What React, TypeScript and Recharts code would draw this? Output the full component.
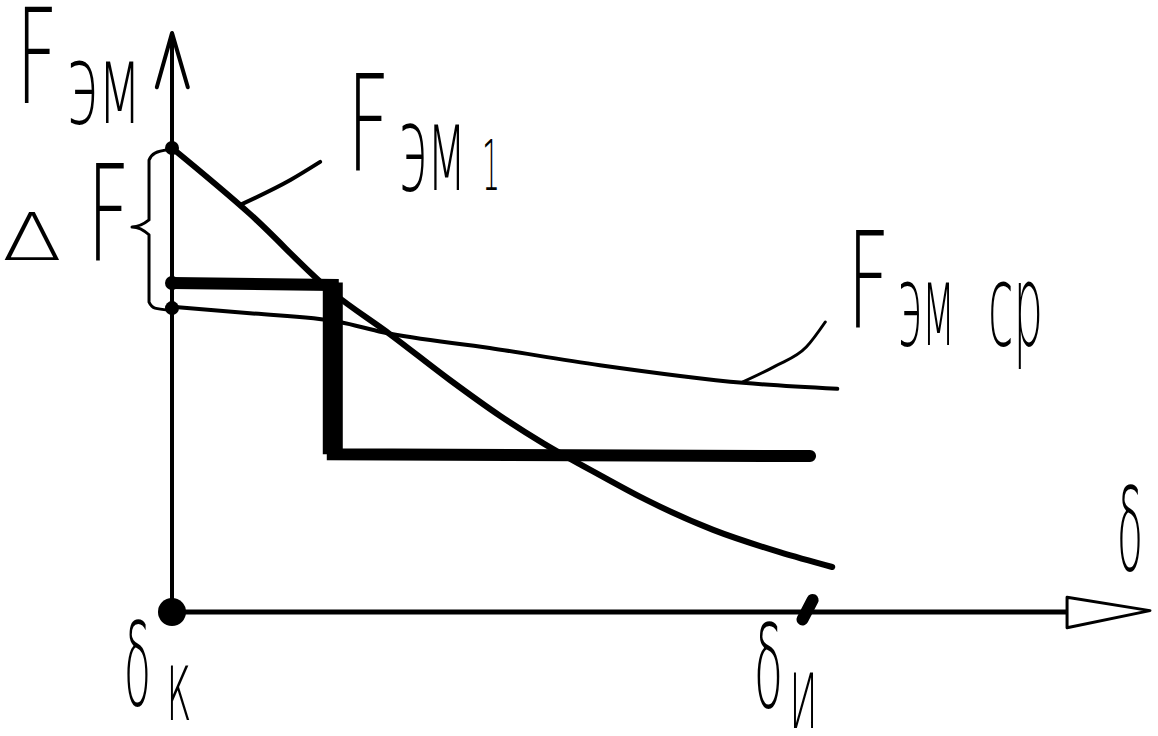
import React from "react";
import { LineChart, Line, XAxis, YAxis, ReferenceDot, Customized } from "recharts";

// ---- layout constants (chart pixels per unit) ----
const W = 1158;
const H = 736;
const ORIGIN_X = 172;
const ORIGIN_Y = 612;
const KX = 63.3; // px per δ unit
const KY = 46.4; // px per F unit

// ---- data (δ in relative units, F in relative units) ----
const fem1X = [0, 1.23, 2.54, 3.44, 4.39, 5.18, 5.86, 6.76, 7.5, 8.55, 9.6, 10.43];
const fem1Y = [10.0, 8.58, 6.88, 5.99, 5.0, 4.23, 3.64, 2.95, 2.41, 1.77, 1.29, 0.97];

const femSrX = [0, 1.23, 2.65, 3.33, 5.02, 6.76, 9.02, 10.51];
const femSrY = [6.58, 6.44, 6.25, 6.03, 5.69, 5.32, 4.94, 4.81];

const stepX = [0, 2.54, 2.54, 10.08];
const stepY = [7.09, 7.05, 3.4, 3.36];

// heavier hand-drawn vertical stroke of the step
const stepDropX = [2.54, 2.54];
const stepDropY = [7.1, 3.4];

const leader1X = [1.07, 1.87, 2.34];
const leader1Y = [8.77, 9.31, 9.7];

const leader2X = [9.02, 9.53, 10.02, 10.32];
const leader2Y = [4.96, 5.3, 5.71, 6.25];

const braceX = [-0.063, -0.269, -0.363, -0.363, -0.632, -0.363, -0.363, -0.269, -0.063];
const braceY = [9.96, 9.89, 9.74, 8.45, 8.3, 8.13, 6.68, 6.55, 6.51];

const xAxisX = [0, 14.14];
const xAxisY = [0, 0];
const xArrowX = [14.14, 15.45, 14.14, 14.14];
const xArrowY = [0.32, 0.03, -0.34, 0.32];

const yAxisX = [0, 0];
const yAxisY = [0, 12.48];
const yArrowX = [-0.24, 0, 0.25];
const yArrowY = [11.31, 12.48, 11.31];

const deltaIMarkX = [10.12, 9.96];
const deltaIMarkY = [0.26, -0.16];

const axisDotsY = [10.0, 7.09, 6.55];
const DELTA_K = 0;

const zip = (xs: number[], ys: number[]) => xs.map((x, i) => ({ x, y: ys[i] }));

const fem1 = zip(fem1X, fem1Y);
const femSr = zip(femSrX, femSrY);
const step = zip(stepX, stepY);
const stepDrop = zip(stepDropX, stepDropY);
const leader1 = zip(leader1X, leader1Y);
const leader2 = zip(leader2X, leader2Y);
const brace = zip(braceX, braceY);
const xAxisLine = zip(xAxisX, xAxisY);
const xArrow = zip(xArrowX, xArrowY);
const yAxisLine = zip(yAxisX, yAxisY);
const yArrow = zip(yArrowX, yArrowY);
const deltaIMark = zip(deltaIMarkX, deltaIMarkY);

const xDomain = [-ORIGIN_X / KX, (W - ORIGIN_X) / KX];
const yDomain = [(ORIGIN_Y - H) / KY, ORIGIN_Y / KY];

const FONT = "'DejaVu Sans', 'Liberation Sans', sans-serif";

type Lbl = { t: string; x: number; y: number; s: number; w: number };
const labels: Lbl[] = [
  { t: "F", x: 16, y: 103, s: 132, w: 42 },
  { t: "эм", x: 67, y: 123, s: 112, w: 74 },
  { t: "F", x: 347, y: 170, s: 134, w: 43 },
  { t: "эм", x: 399, y: 190, s: 120, w: 67 },
  { t: "1", x: 482, y: 190, s: 69, w: 18 },
  { t: "F", x: 847, y: 327, s: 133, w: 43 },
  { t: "эм", x: 898, y: 345, s: 114, w: 57 },
  { t: "ср", x: 988, y: 345, s: 114, w: 55 },
  { t: "Δ", x: 2, y: 260, s: 66, w: 60 },
  { t: "F", x: 87, y: 260, s: 133, w: 43 },
  { t: "δ", x: 1117, y: 570, s: 116, w: 26 },
  { t: "δ", x: 124, y: 705, s: 116, w: 27 },
  { t: "к", x: 166, y: 720, s: 100, w: 26 },
  { t: "δ", x: 754, y: 707, s: 116, w: 29 },
  { t: "и", x: 789, y: 728, s: 102, w: 29 },
];

const Labels = () => (
  <g>
    {labels.map((l, i) => (
      <text
        key={i}
        x={l.x}
        y={l.y}
        fontSize={l.s}
        fontFamily={FONT}
        fontWeight={200}
        fill="#000"
        textLength={l.w}
        lengthAdjust="spacingAndGlyphs"
      >
        {l.t}
      </text>
    ))}
  </g>
);

const lineProps = {
  dataKey: "y",
  dot: false,
  activeDot: false,
  isAnimationActive: false,
  stroke: "#000",
  strokeLinecap: "round" as const,
  strokeLinejoin: "round" as const,
  legendType: "none" as const,
};

export default function App() {
  return (
    <div style={{ position: "absolute", left: 0, top: 0, width: W, height: H, background: "#fff" }}>
      <LineChart width={W} height={H} margin={{ top: 0, right: 0, bottom: 0, left: 0 }}>
        <XAxis type="number" dataKey="x" domain={xDomain} hide allowDataOverflow />
        <YAxis type="number" dataKey="y" domain={yDomain} hide allowDataOverflow />
        <Line {...lineProps} data={xAxisLine} type="linear" strokeWidth={5} strokeLinecap="butt" />
        <Line {...lineProps} data={xArrow} type="linear" strokeWidth={3} />
        <Line {...lineProps} data={yAxisLine} type="linear" strokeWidth={4} strokeLinecap="butt" />
        <Line {...lineProps} data={yArrow} type="linear" strokeWidth={4} />
        <Line {...lineProps} data={brace} type="monotone" strokeWidth={3} />
        <Line {...lineProps} data={femSr} type="monotone" strokeWidth={4} />
        <Line {...lineProps} data={fem1} type="monotone" strokeWidth={6} />
        <Line {...lineProps} data={step} type="linear" strokeWidth={12} strokeLinejoin="miter" />
        <Line {...lineProps} data={stepDrop} type="linear" strokeWidth={20} strokeLinecap="butt" />
        <Line {...lineProps} data={leader1} type="monotone" strokeWidth={4} />
        <Line {...lineProps} data={leader2} type="monotone" strokeWidth={3} />
        <Line {...lineProps} data={deltaIMark} type="linear" strokeWidth={12} />
        {axisDotsY.map((v, i) => (
          <ReferenceDot key={i} x={DELTA_K} y={v} r={7} fill="#000" stroke="none" ifOverflow="visible" />
        ))}
        <ReferenceDot x={DELTA_K} y={0} r={14} fill="#000" stroke="none" ifOverflow="visible" />
        <Customized component={Labels} />
      </LineChart>
    </div>
  );
}
